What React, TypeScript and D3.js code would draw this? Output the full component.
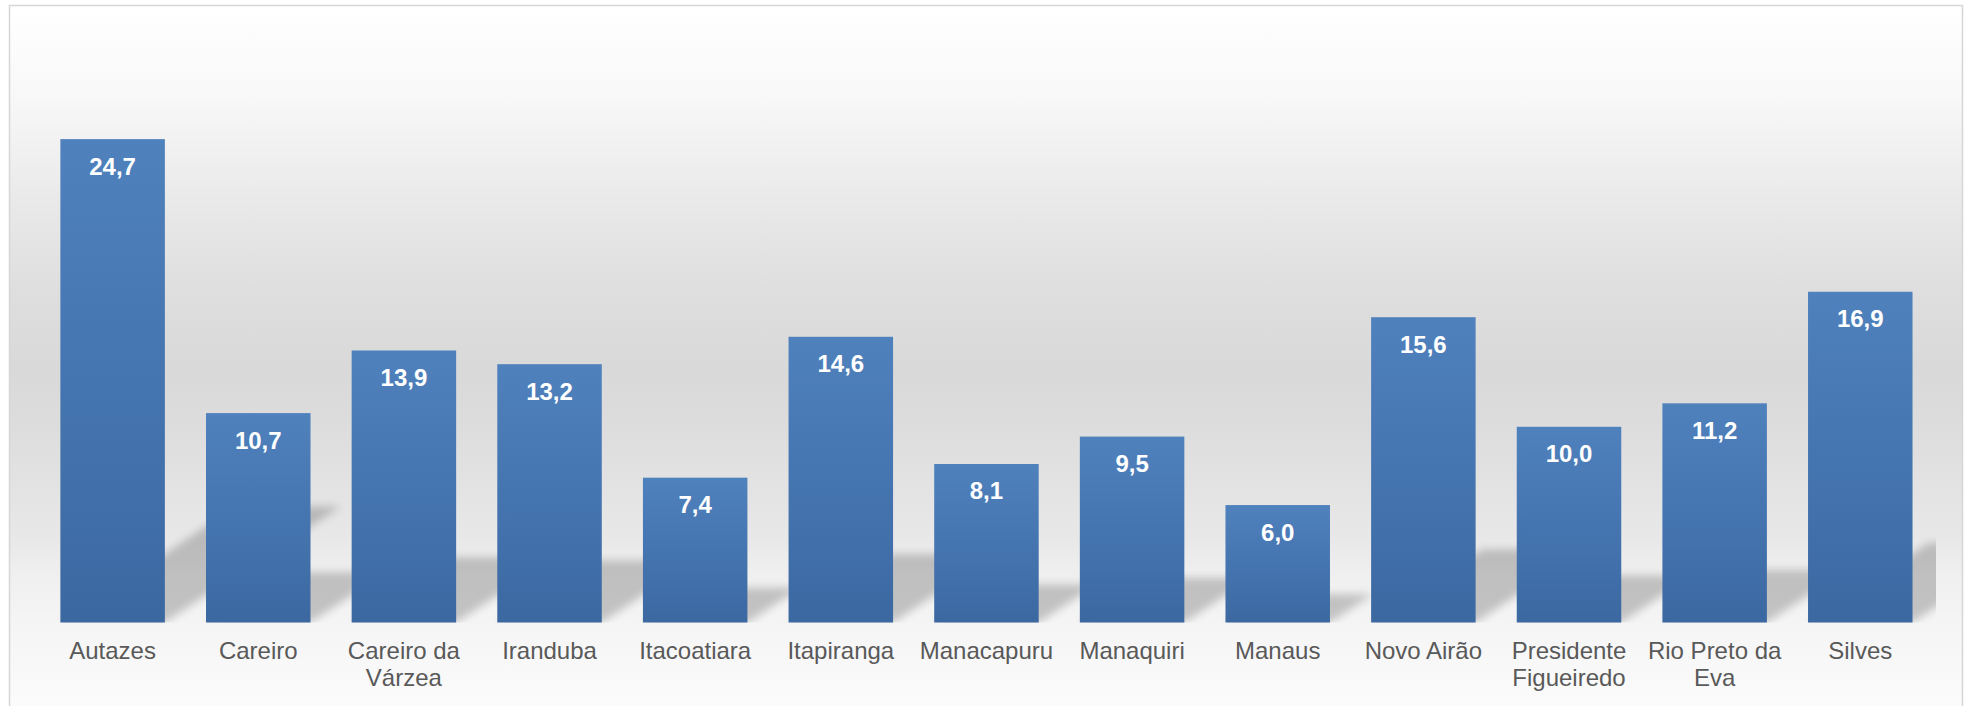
import React, { useRef, useEffect } from 'react';
import * as d3 from 'd3';

const categories = [
  'Autazes',
  'Careiro',
  'Careiro da Várzea',
  'Iranduba',
  'Itacoatiara',
  'Itapiranga',
  'Manacapuru',
  'Manaquiri',
  'Manaus',
  'Novo Airão',
  'Presidente Figueiredo',
  'Rio Preto da Eva',
  'Silves'
];
const values = [24.7, 10.7, 13.9, 13.2, 7.4, 14.6, 8.1, 9.5, 6.0, 15.6, 10.0, 11.2, 16.9];
const yMax = 30; // axis max (axis itself is hidden)

const WIDTH = 1968;
const HEIGHT = 706;
const FONT = '"Liberation Sans", Arial, sans-serif';

const App: React.FC = () => {
  const svgRef = useRef<SVGSVGElement | null>(null);

  useEffect(() => {
    const svg = d3.select(svgRef.current);
    svg.selectAll('*').remove();

    const plot = { left: 39.8, right: 1933.1, top: 35.4, bottom: 622.5 };

    const x = d3.scaleBand<string>()
      .domain(categories)
      .range([plot.left, plot.right])
      .paddingInner(0.2825)
      .paddingOuter(0.14125);

    const y = d3.scaleLinear()
      .domain([0, yMax])
      .range([plot.bottom, plot.top]);

    const defs = svg.append('defs');

    // chart area background: white -> grey -> white
    const bg = defs.append('linearGradient')
      .attr('id', 'bgGrad')
      .attr('gradientUnits', 'userSpaceOnUse')
      .attr('x1', 0).attr('x2', 0)
      .attr('y1', 6).attr('y2', 706);
    [
      [0, '#ffffff'],
      [0.13, '#f8f8f8'],
      [0.28, '#e9e9e9'],
      [0.41, '#dedede'],
      [0.52, '#d9d9d9'],
      [0.59, '#dcdcdc'],
      [0.76, '#e8e8e8'],
      [0.81, '#efefef'],
      [0.9, '#f6f6f6'],
      [1, '#fbfbfb']
    ].forEach(([o, c]) => bg.append('stop').attr('offset', o as number).attr('stop-color', c as string));

    // bar fill
    const barGrad = defs.append('linearGradient')
      .attr('id', 'barGrad')
      .attr('x1', 0).attr('x2', 0).attr('y1', 0).attr('y2', 1);
    barGrad.append('stop').attr('offset', 0).attr('stop-color', '#4f81bd');
    barGrad.append('stop').attr('offset', 0.5).attr('stop-color', '#4575b0');
    barGrad.append('stop').attr('offset', 1).attr('stop-color', '#3c68a1');

    defs.append('filter')
      .attr('id', 'blur')
      .attr('x', '-20%').attr('y', '-20%')
      .attr('width', '140%').attr('height', '140%')
      .append('feGaussianBlur')
      .attr('stdDeviation', 4);

    defs.append('clipPath')
      .attr('id', 'plotClip')
      .append('rect')
      .attr('x', 38)
      .attr('y', plot.top)
      .attr('width', 1936 - 38)
      .attr('height', plot.bottom - plot.top);

    // frame
    svg.append('rect')
      .attr('x', 9.5)
      .attr('y', 5.5)
      .attr('width', 1953)
      .attr('height', 730)
      .attr('fill', 'url(#bgGrad)')
      .attr('stroke', '#d6d6d6')
      .attr('stroke-width', 1.5);

    // perspective shadows (diagonal upper right)
    const shadowG = svg.append('g')
      .attr('clip-path', 'url(#plotClip)')
      .append('g')
      .attr('filter', 'url(#blur)')
      .attr('opacity', 0.2);

    shadowG.selectAll('polygon')
      .data(values)
      .enter()
      .append('polygon')
      .attr('fill', '#000')
      .attr('points', (d, i) => {
        const x0 = x(categories[i]) as number;
        const x1 = x0 + x.bandwidth();
        const base = y(0);
        const h = base - y(d);
        const top = base - 0.24 * h;
        const shift = 0.364 * h;
        return [
          [x0, base], [x1, base], [x1 + shift, top], [x0 + shift, top]
        ].map(p => p.join(',')).join(' ');
      });

    // bars
    svg.append('g')
      .selectAll('rect')
      .data(values)
      .enter()
      .append('rect')
      .attr('x', (d, i) => x(categories[i]) as number)
      .attr('y', d => y(d))
      .attr('width', x.bandwidth())
      .attr('height', d => y(0) - y(d))
      .attr('fill', 'url(#barGrad)');

    // value labels
    svg.append('g')
      .selectAll('text')
      .data(values)
      .enter()
      .append('text')
      .attr('x', (d, i) => (x(categories[i]) as number) + x.bandwidth() / 2)
      .attr('y', d => y(d) + 35.5)
      .attr('text-anchor', 'middle')
      .style('font-family', FONT)
      .style('font-size', '24px')
      .style('font-weight', 'bold')
      .style('fill', '#ffffff')
      .text(d => d3.format('.1f')(d).replace('.', ','));

    // category labels, wrapped within the band step
    const labels = svg.append('g')
      .selectAll('text')
      .data(categories)
      .enter()
      .append('text')
      .attr('x', d => (x(d) as number) + x.bandwidth() / 2)
      .attr('y', 659.3)
      .attr('text-anchor', 'middle')
      .style('font-family', FONT)
      .style('font-size', '24px')
      .style('fill', '#595959')
      .text(d => d);

    const maxW = x.step() - 2;
    labels.each(function () {
      const t = d3.select(this);
      const words = t.text().split(/\s+/);
      const cx = t.attr('x');
      t.text(null);
      let line: string[] = [];
      let lineNo = 0;
      let tspan = t.append('tspan').attr('x', cx).attr('dy', 0);
      words.forEach(w => {
        line.push(w);
        tspan.text(line.join(' '));
        const node = tspan.node() as SVGTSpanElement;
        if (line.length > 1 && node.getComputedTextLength() > maxW) {
          line.pop();
          tspan.text(line.join(' '));
          line = [w];
          lineNo += 1;
          tspan = t.append('tspan').attr('x', cx).attr('dy', 26.5).text(w);
        }
      });
    });
  }, []);

  return (
    <div style={{ position: 'absolute', left: 0, top: 0 }}>
      <svg ref={svgRef} width={WIDTH} height={HEIGHT} style={{ display: 'block' }} />
    </div>
  );
};

export default App;
